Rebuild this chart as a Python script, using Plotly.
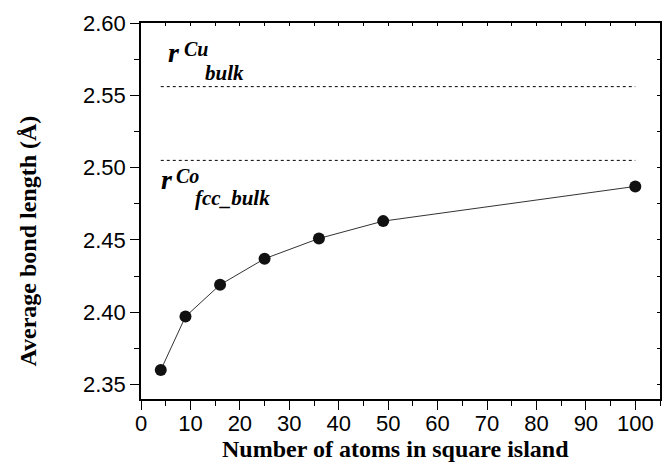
import plotly.graph_objects as go

# Data
atoms = [4, 9, 16, 25, 36, 49, 100]
bond_length = [2.360, 2.397, 2.419, 2.437, 2.451, 2.463, 2.487]
ref_x = [4, 100]
r_cu_bulk = 2.556
r_co_fcc_bulk = 2.505

x_title = "Number of atoms in square island"
y_title = "Average bond length (Å)"

fig = go.Figure()
fig.add_trace(go.Scatter(x=ref_x, y=[r_cu_bulk, r_cu_bulk], mode="lines",
                         line=dict(color="black", width=1, dash="dot"), showlegend=False))
fig.add_trace(go.Scatter(x=ref_x, y=[r_co_fcc_bulk, r_co_fcc_bulk], mode="lines",
                         line=dict(color="black", width=1, dash="dot"), showlegend=False))
fig.add_trace(go.Scatter(x=atoms, y=bond_length, mode="lines+markers",
                         line=dict(color="#333333", width=1),
                         marker=dict(color="#111111", size=12), showlegend=False))
# helper (empty) trace to show mirror axes
fig.add_trace(go.Scatter(x=[], y=[], xaxis="x2", yaxis="y2", showlegend=False))

tickfont = dict(family="Arial", size=22, color="black")

fig.update_layout(
    width=671, height=466,
    margin=dict(l=141, r=11, t=18, b=67),
    plot_bgcolor="white", paper_bgcolor="white",
    xaxis=dict(range=[0, 105], dtick=10, tick0=0, ticks="outside", ticklen=9, tickwidth=1,
               tickcolor="black", showline=True, linecolor="black", linewidth=1.5,
               showgrid=False, zeroline=False, tickfont=tickfont, ticklabelstandoff=-5,
               minor=dict(dtick=5, ticks="outside", ticklen=5, tickcolor="black")),
    yaxis=dict(range=[2.34, 2.60], dtick=0.05, tick0=2.35, tickformat=".2f", ticks="outside",
               ticklen=9, tickwidth=1, tickcolor="black", showline=True, linecolor="black",
               linewidth=1.5, showgrid=False, zeroline=False, tickfont=tickfont,
               minor=dict(dtick=0.025, ticks="outside", ticklen=5, tickcolor="black")),
    xaxis2=dict(range=[0, 105], overlaying="x", side="top", dtick=5, tick0=0, ticks="inside",
                ticklen=3, tickcolor="black", showticklabels=False, showline=True,
                linecolor="black", linewidth=1.5, showgrid=False, zeroline=False),
    yaxis2=dict(range=[2.34, 2.60], overlaying="y", side="right", dtick=0.025, tick0=2.35,
                ticks="inside", ticklen=3, tickcolor="black", showticklabels=False,
                showline=True, linecolor="black", linewidth=1.5, showgrid=False, zeroline=False),
)

# axis titles
titlefont = dict(family="Times New Roman", size=24, color="black", weight="bold")
fig.add_annotation(text=x_title, x=0.491, y=-0.133, xref="paper", yref="paper",
                   xanchor="center", yanchor="middle", showarrow=False, font=titlefont)
fig.add_annotation(text=y_title, x=-0.218, y=0.421, xref="paper", yref="paper",
                   xanchor="center", yanchor="middle", textangle=-90, showarrow=False,
                   font=titlefont)

# reference-line labels
labels = [
    ("r", 5.0, 2.5795, 28),
    ("Cu", 8.3, 2.5818, 20),
    ("bulk", 12.6, 2.5655, 21),
    ("r", 3.6, 2.4918, 28),
    ("Co", 6.6, 2.4944, 20),
    ("fcc_bulk", 10.5, 2.4787, 21),
]
for txt, xx, yy, sz in labels:
    fig.add_annotation(text=txt, x=xx, y=yy, xref="x", yref="y", xanchor="left",
                       yanchor="middle", showarrow=False,
                       font=dict(family="Times New Roman", size=sz, color="black",
                                 style="italic", weight="bold"))

fig.write_html("out.html")
